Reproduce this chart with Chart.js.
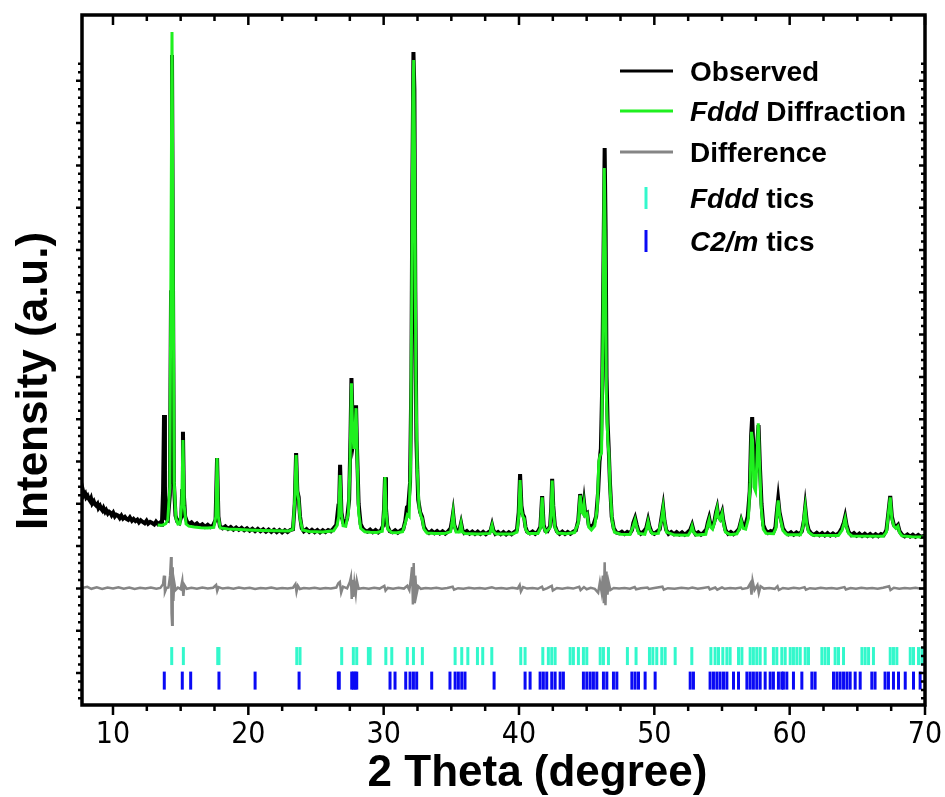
<!DOCTYPE html>
<html>
<head>
<meta charset="utf-8">
<title>XRD refinement</title>
<script src="https://cdn.jsdelivr.net/npm/chart.js@4/dist/chart.umd.min.js"></script>
<style>
  html, body { margin: 0; padding: 0; background: #fff; }
  #wrap { width: 945px; height: 797px; }
</style>
</head>
<body>
<div id="wrap"><canvas id="xrd" width="945" height="797"></canvas></div>
<script>
// - Pattern data: [2theta, counts]

const observed = [
  [7.71,4255],[7.78,4310],[7.86,4200],[7.95,4240],[8.02,4150],[8.12,4190],[8.2,4120],[8.3,4070],[8.38,4130],[8.47,4010],
  [8.58,4060],[8.66,3990],[8.75,3960],[8.85,4000],[8.93,3900],[9.04,3950],[9.13,3880],[9.22,3840],[9.3,3900],[9.42,3810],
  [9.5,3850],[9.62,3770],[9.72,3810],[9.8,3790],[9.9,3730],[10.02,3790],[10.14,3700],[10.25,3740],[10.38,3720],[10.5,3660],
  [10.62,3720],[10.74,3650],[10.88,3690],[11.0,3640],[11.12,3620],[11.25,3680],[11.4,3600],[11.52,3640],[11.66,3590],[11.8,3625],
  [11.92,3560],[12.05,3610],[12.2,3570],[12.34,3540],[12.48,3600],[12.6,3530],[12.75,3570],[12.9,3545],[13.05,3510],[13.18,3575],
  [13.32,3520],[13.45,3550],[13.55,3505],
  [13.62,3560],[13.7,4300],[13.77,6100],[13.84,4400],[13.92,3650],[14.05,3620],
  [14.2,4200],[14.29,9000],[14.36,14610],[14.43,9500],[14.5,4500],[14.62,3720],[14.75,3580],[14.9,3545],[15.05,3700],[15.11,4300],
  [15.17,5700],[15.24,4200],[15.33,3700],[15.45,3590],[15.6,3520],[15.8,3560],[16.0,3490],[16.2,3535],[16.4,3470],[16.6,3515],
  [16.8,3455],[17.0,3505],[17.2,3450],[17.4,3490],[17.58,3620],[17.69,5080],[17.79,3700],[17.9,3470],[18.1,3420],[18.3,3465],
  [18.5,3405],[18.7,3450],[18.9,3390],[19.1,3440],[19.3,3385],[19.5,3430],[19.7,3375],[19.9,3420],[20.1,3365],[20.3,3410],
  [20.5,3355],[20.7,3405],[20.9,3350],[21.1,3395],[21.3,3340],[21.5,3390],[21.7,3335],[21.9,3385],[22.1,3330],[22.3,3380],
  [22.5,3325],[22.7,3375],[22.9,3330],[23.1,3380],[23.3,3400],[23.43,4000],[23.53,5200],[23.62,4300],[23.72,4160],[23.82,3700],
  [23.95,3420],[24.1,3350],[24.3,3400],[24.5,3335],[24.7,3385],[24.9,3330],[25.1,3380],[25.3,3325],[25.5,3375],[25.7,3330],
  [25.9,3380],[26.1,3350],[26.3,3420],[26.5,3500],[26.62,3850],[26.7,3800],[26.78,4920],[26.88,3800],[27.0,3560],[27.15,3520],
  [27.3,3650],[27.45,4100],[27.55,5600],[27.62,6970],[27.7,6000],[27.78,5500],[27.88,5700],[27.96,6330],[28.04,5200],[28.15,4000],
  [28.3,3520],[28.45,3420],[28.6,3370],[28.8,3340],[29.0,3390],[29.2,3330],[29.4,3380],[29.6,3325],[29.8,3375],[29.95,3480],
  [30.03,3900],[30.1,4630],[30.17,3900],[30.27,3480],[30.45,3350],[30.65,3325],[30.85,3375],[31.05,3320],[31.25,3370],[31.45,3400],
  [31.6,3600],[31.72,3920],[31.82,3950],[31.95,4500],[32.05,7000],[32.12,11500],[32.2,14680],[32.27,13800],[32.34,9000],[32.42,5500],
  [32.55,4100],[32.7,3800],[32.84,3690],[32.98,3450],[33.15,3360],[33.35,3310],[33.55,3360],[33.75,3305],[33.95,3355],[34.15,3300],
  [34.35,3350],[34.55,3295],[34.75,3345],[34.95,3420],[35.05,3600],[35.13,3780],[35.22,3500],[35.35,3380],[35.5,3360],[35.62,3400],
  [35.72,3545],[35.82,3380],[35.95,3310],[36.15,3355],[36.35,3295],[36.55,3345],[36.75,3290],[36.95,3340],[37.15,3285],[37.35,3335],
  [37.55,3280],[37.75,3330],[37.9,3360],[38.01,3500],[38.1,3380],[38.25,3290],[38.45,3335],[38.65,3280],[38.85,3330],[39.05,3275],
  [39.25,3325],[39.45,3280],[39.65,3330],[39.85,3380],[39.98,3800],[40.08,4700],[40.18,3950],[40.28,3750],[40.38,3690],[40.48,3450],
  [40.6,3340],[40.8,3300],[41.0,3345],[41.2,3290],[41.4,3340],[41.58,3450],[41.71,4180],[41.82,3500],[41.95,3360],[42.1,3350],
  [42.3,3480],[42.38,3900],[42.45,4590],[42.53,3950],[42.65,3480],[42.8,3350],[43.0,3290],[43.2,3340],[43.4,3285],[43.6,3335],
  [43.8,3290],[44.0,3340],[44.2,3370],[44.38,3600],[44.52,4230],[44.64,3850],[44.74,3800],[44.81,4020],[44.9,3750],[45.03,3780],
  [45.15,3500],[45.3,3450],[45.5,3500],[45.7,3700],[45.85,4300],[45.95,5000],[46.05,5300],[46.15,6800],[46.25,10000],[46.33,12410],
  [46.4,10500],[46.47,7000],[46.55,5900],[46.63,5300],[46.72,4500],[46.85,3700],[47.0,3420],[47.2,3320],[47.4,3300],[47.6,3340],
  [47.8,3285],[48.0,3335],[48.2,3300],[48.35,3380],[48.45,3550],[48.58,3665],[48.7,3500],[48.82,3360],[49.0,3290],[49.2,3340],
  [49.4,3420],[49.54,3615],[49.65,3450],[49.8,3330],[50.0,3290],[50.2,3340],[50.4,3400],[50.52,3650],[50.65,3920],[50.75,3600],
  [50.88,3380],[51.05,3290],[51.25,3335],[51.45,3280],[51.65,3330],[51.85,3275],[52.05,3325],[52.25,3270],[52.45,3320],[52.65,3380],
  [52.79,3500],[52.9,3360],[53.05,3280],[53.25,3325],[53.45,3270],[53.65,3320],[53.85,3400],[53.95,3550],[54.05,3665],[54.15,3500],
  [54.3,3450],[54.45,3600],[54.56,3800],[54.64,3900],[54.72,3700],[54.85,3650],[55.01,3805],[55.1,3600],[55.25,3380],[55.45,3290],
  [55.65,3335],[55.85,3280],[56.05,3330],[56.25,3400],[56.42,3615],[56.55,3480],[56.7,3450],[56.9,3700],[57.05,4300],[57.15,5600],
  [57.23,6050],[57.32,5300],[57.42,4700],[57.52,4800],[57.62,5500],[57.7,5860],[57.8,4900],[57.92,4000],[58.05,3500],[58.2,3380],
  [58.4,3310],[58.6,3355],[58.8,3330],[58.95,3450],[59.05,3800],[59.15,4110],[59.25,3800],[59.35,3650],[59.5,3420],[59.7,3320],
  [59.9,3280],[60.1,3325],[60.3,3270],[60.5,3320],[60.7,3280],[60.9,3350],[61.05,3600],[61.15,3920],[61.27,3550],[61.4,3380],
  [61.6,3300],[61.8,3265],[62.0,3315],[62.2,3260],[62.4,3310],[62.6,3255],[62.8,3305],[63.0,3252],[63.2,3300],[63.4,3255],
  [63.65,3310],[63.85,3420],[64.0,3550],[64.1,3690],[64.2,3500],[64.35,3340],[64.55,3260],[64.75,3305],[64.95,3245],[65.15,3295],
  [65.35,3240],[65.55,3290],[65.75,3240],[65.95,3285],[66.15,3235],[66.35,3280],[66.55,3235],[66.75,3285],[66.95,3260],[67.15,3380],
  [67.3,3800],[67.43,4185],[67.55,3700],[67.7,3500],[67.85,3450],[68.0,3500],[68.12,3350],[68.3,3270],[68.5,3230],[68.7,3275],
  [68.9,3225],[69.1,3270],[69.3,3220],[69.5,3265],[69.7,3220],[70.0,3245]
];

const calculated = [
  [13.3,3500],[13.5,3490],[13.7,3500],[13.9,3530],[14.05,3620],[14.2,4400],[14.28,9500],[14.36,15150],[14.44,10000],[14.52,4500],
  [14.65,3650],[14.8,3520],[14.95,3530],[15.08,4000],[15.17,5510],[15.26,3950],[15.4,3520],[15.6,3470],[16.0,3450],[16.5,3435],
  [17.0,3425],[17.45,3440],[17.6,3700],[17.69,5080],[17.78,3700],[17.92,3430],[18.5,3405],[19.0,3395],[20.0,3380],[21.0,3370],
  [22.0,3360],[23.0,3355],[23.3,3400],[23.43,4100],[23.53,5150],[23.62,4300],[23.72,4100],[23.82,3650],[24.0,3380],[24.5,3345],
  [25.5,3335],[26.3,3360],[26.55,3480],[26.68,3700],[26.78,4680],[26.88,3750],[27.0,3480],[27.2,3470],[27.4,3800],[27.52,5000],
  [27.62,6850],[27.7,5800],[27.8,5300],[27.88,5700],[27.96,6260],[28.05,5000],[28.15,3800],[28.3,3420],[28.6,3340],[29.0,3325],
  [29.5,3320],[29.9,3350],[30.02,3800],[30.1,4630],[30.18,3800],[30.3,3400],[30.6,3320],[31.0,3315],[31.4,3340],[31.6,3550],
  [31.75,3740],[31.88,3700],[31.98,4800],[32.08,9000],[32.16,13500],[32.22,14490],[32.3,11500],[32.38,7000],[32.48,4800],[32.62,3900],
  [32.76,3700],[32.84,3650],[32.98,3400],[33.2,3310],[33.8,3300],[34.5,3295],[34.95,3340],[35.05,3550],[35.13,3770],[35.22,3480],
  [35.35,3330],[35.6,3330],[35.72,3530],[35.82,3330],[36.0,3295],[37.0,3285],[37.85,3300],[37.95,3430],[38.01,3495],[38.1,3350],
  [38.3,3285],[39.5,3285],[39.85,3330],[39.98,3700],[40.08,4560],[40.18,3850],[40.28,3700],[40.38,3650],[40.5,3380],[40.7,3300],
  [41.4,3300],[41.58,3420],[41.71,4150],[41.82,3450],[42.0,3330],[42.3,3440],[42.38,3850],[42.45,4550],[42.53,3900],[42.65,3440],
  [42.85,3310],[43.5,3290],[44.1,3320],[44.38,3550],[44.52,4200],[44.64,3800],[44.74,3760],[44.81,3980],[44.9,3720],[45.03,3760],
  [45.15,3450],[45.35,3380],[45.6,3480],[45.78,3900],[45.9,5000],[46.0,5150],[46.1,5200],[46.2,8000],[46.3,11940],[46.38,10000],
  [46.46,6500],[46.56,5500],[46.64,5200],[46.74,4300],[46.88,3600],[47.05,3330],[47.5,3280],[48.2,3275],[48.45,3480],[48.58,3620],
  [48.7,3450],[48.85,3300],[49.3,3280],[49.42,3400],[49.54,3580],[49.66,3400],[49.85,3290],[50.3,3300],[50.52,3600],[50.65,3900],
  [50.76,3580],[50.9,3330],[51.5,3260],[52.5,3255],[52.68,3350],[52.79,3470],[52.9,3330],[53.1,3260],[53.8,3280],[53.95,3500],
  [54.05,3620],[54.15,3450],[54.3,3400],[54.45,3560],[54.56,3760],[54.64,3880],[54.72,3680],[54.85,3620],[55.01,3780],[55.1,3560],
  [55.25,3330],[55.6,3270],[56.1,3290],[56.28,3400],[56.42,3600],[56.55,3420],[56.75,3400],[56.95,3650],[57.08,4500],[57.18,5700],
  [57.26,5500],[57.36,4400],[57.48,4300],[57.58,5000],[57.68,5900],[57.78,4900],[57.9,3900],[58.05,3400],[58.25,3300],[58.8,3290],
  [58.98,3420],[59.07,3800],[59.15,4080],[59.25,3750],[59.35,3600],[59.5,3370],[59.8,3265],[60.8,3265],[60.98,3450],[61.07,3700],
  [61.15,3900],[61.26,3520],[61.4,3330],[61.7,3255],[63.6,3250],[63.88,3380],[64.0,3520],[64.1,3650],[64.2,3460],[64.35,3300],
  [64.6,3240],[66.9,3230],[67.15,3330],[67.3,3780],[67.43,4150],[67.55,3650],[67.7,3470],[67.85,3420],[68.0,3470],[68.12,3320],
  [68.3,3240],[69.0,3220],[70.0,3215]
];

// observed - calculated, shifted down to sit under the pattern
const difference = [
  [7.71,2010],[8.1,2035],[8.4,1990],[8.8,2025],[9.2,1985],[9.6,2020],[10.0,1995],[10.4,2025],[10.8,1990],[11.2,2020],
  [11.6,1985],[12.0,2015],[12.4,1995],[12.8,2020],[13.2,1990],[13.5,2010],[13.7,2100],[13.77,2300],[13.84,1920],[13.95,2010],
  [14.1,2020],[14.22,2300],[14.29,2740],[14.33,1400],[14.37,1140],[14.41,2500],[14.46,1700],[14.52,2150],[14.62,1960],[14.8,2020],
  [15.0,1980],[15.12,2180],[15.2,1820],[15.28,2080],[15.45,1990],[15.8,2015],[16.2,1990],[16.6,2020],[17.0,1995],[17.4,2015],
  [17.62,2080],[17.7,1940],[17.8,2030],[18.1,1995],[18.5,2015],[18.9,1990],[19.3,2020],[19.7,1995],[20.1,2015],[20.5,1985],
  [20.9,2010],[21.3,1995],[21.7,2020],[22.1,1990],[22.5,2010],[22.9,1995],[23.3,2015],[23.48,2100],[23.56,1920],[23.66,2060],
  [23.8,1985],[24.1,2010],[24.5,1995],[24.9,2015],[25.3,1990],[25.7,2010],[26.1,1995],[26.5,2020],[26.65,2120],[26.76,2150],
  [26.86,1900],[27.0,2040],[27.3,2000],[27.5,2150],[27.58,2260],[27.64,1750],[27.7,2200],[27.76,1800],[27.84,2130],[27.94,1880],
  [28.02,2180],[28.15,1990],[28.5,2010],[28.9,1990],[29.3,2015],[29.7,1995],[30.05,2060],[30.14,1950],[30.3,2010],[30.7,1990],
  [31.1,2015],[31.5,1995],[31.75,2060],[31.9,1960],[32.02,2250],[32.1,2500],[32.16,1620],[32.22,2600],[32.28,1650],[32.34,2300],
  [32.42,1850],[32.55,2050],[32.75,1990],[33.1,2010],[33.5,1995],[33.9,2015],[34.3,1990],[34.7,2010],[35.1,2040],[35.2,1970],
  [35.5,2005],[35.9,1990],[36.3,2015],[36.7,1995],[37.1,2010],[37.5,1990],[38.0,2025],[38.3,1995],[38.7,2010],[39.1,1990],
  [39.5,2015],[39.9,1995],[40.05,2080],[40.14,1930],[40.3,2030],[40.6,1995],[41.0,2010],[41.4,1990],[41.7,2040],[41.8,1970],
  [42.1,2005],[42.42,2060],[42.5,1950],[42.8,2010],[43.2,1990],[43.6,2015],[44.0,1995],[44.45,2040],[44.55,1960],[44.8,2030],
  [45.0,1980],[45.3,2015],[45.6,1990],[45.85,1900],[45.98,2150],[46.1,1920],[46.2,2300],[46.27,1650],[46.33,2620],[46.39,1600],
  [46.46,2400],[46.54,1850],[46.62,2150],[46.75,1960],[47.0,2010],[47.4,1995],[47.8,2010],[48.2,1990],[48.55,2030],[48.65,1980],
  [49.0,2005],[49.5,2020],[49.6,1985],[50.0,2010],[50.6,2040],[50.7,1970],[51.0,2005],[51.5,1990],[52.0,2015],[52.5,1995],
  [52.8,2020],[53.2,1990],[53.6,2010],[54.0,2030],[54.1,1975],[54.5,2020],[54.65,1970],[55.0,2025],[55.2,1990],[55.6,2010],
  [56.0,1995],[56.4,2020],[56.5,1985],[56.9,2010],[57.1,2120],[57.18,1850],[57.26,2180],[57.4,1960],[57.62,2080],[57.72,1890],
  [57.85,2050],[58.1,1995],[58.5,2010],[58.9,1990],[59.1,2050],[59.2,1960],[59.5,2010],[59.9,1990],[60.3,2015],[60.7,1995],
  [61.1,2030],[61.2,1970],[61.5,2005],[61.9,1990],[62.3,2015],[62.7,1995],[63.1,2010],[63.5,1990],[64.05,2030],[64.15,1975],
  [64.5,2010],[64.9,1990],[65.3,2015],[65.7,1995],[66.1,2010],[66.5,1990],[66.9,2015],[67.35,2050],[67.45,1960],[67.7,2015],
  [68.1,1990],[68.5,2010],[68.9,1995],[69.3,2015],[69.7,1990],[70.0,2005]
];

// - Bragg reflection positions (2theta)

const fdddTics = [
  14.34, 15.20, 17.74, 17.83, 23.58, 23.82, 26.90, 27.76, 28.01, 28.87, 29.00, 30.16, 30.60, 31.75, 32.20, 32.86,
  35.28, 35.77, 36.22, 36.93, 37.32, 37.99, 40.13, 40.45, 41.76, 42.17, 42.42, 42.67, 43.78, 44.02, 44.39, 44.76,
  45.01, 46.00, 46.24, 46.61, 48.01, 48.65, 49.64, 49.89, 50.18, 50.55, 50.80, 51.54, 52.77, 54.18, 54.49, 54.74,
  55.06, 55.36, 55.60, 56.22, 56.47, 57.08, 57.32, 57.57, 57.82, 58.19, 58.80, 59.05, 59.42, 59.67, 60.04, 60.28,
  60.53, 60.78, 61.15, 61.39, 62.38, 62.62, 62.87, 63.36, 63.61, 63.98, 65.34, 65.58, 65.83, 66.19, 67.43, 67.67,
  67.92, 68.91, 69.15, 69.52, 69.77
];

const c2mTics = [
  13.79, 15.12, 15.74, 17.83, 20.50, 23.75, 26.65, 26.72, 27.64, 27.76, 27.89, 28.01, 30.47, 30.84, 31.63, 31.95,
  32.20, 32.44, 33.55, 34.90, 35.28, 35.52, 35.77, 36.01, 38.16, 40.45, 40.82, 41.56, 41.80, 42.05, 42.42, 42.67,
  43.04, 43.28, 44.76, 45.01, 45.26, 45.50, 45.75, 46.24, 46.49, 46.98, 47.23, 48.34, 48.58, 48.83, 49.32, 50.06,
  52.65, 52.89, 54.12, 54.37, 54.62, 54.86, 55.11, 55.36, 55.85, 56.22, 56.84, 57.08, 57.32, 57.57, 57.82, 58.19,
  58.56, 58.80, 59.17, 59.42, 59.54, 59.79, 60.28, 60.90, 61.64, 61.88, 63.24, 63.49, 63.73, 63.98, 64.23, 64.47,
  64.84, 65.21, 66.07, 66.31, 67.05, 67.30, 67.67, 68.04, 68.54, 69.15, 69.64
];

const xTicks = [10, 20, 30, 40, 50, 60, 70];

// rows for the tic marks, below the difference curve
const FDDD_ROW = 400;
const C2M_ROW = -180;

const FONT = "'Liberation Sans', Arial, Helvetica, sans-serif";
const NARROW = "'Liberation Sans Narrow', 'Arial Narrow', 'DejaVu Sans Condensed', sans-serif";

const toPoints = pairs => pairs.map(p => ({ x: p[0], y: p[1] }));
const ticPoints = (list, row) => list.map(v => ({ x: v, y: row }));

// - Box frame with ticks on all four sides

const frameTicks = {
  id: 'frameTicks',
  afterDatasetsDraw(chart) {
    const { ctx, chartArea: a, scales: { x, y } } = chart;
    ctx.save();
    ctx.strokeStyle = '#000';
    ctx.lineWidth = 2.5;
    ctx.beginPath();
    for (let v = 10; v <= 70; v += 2.5) {
      const px = x.getPixelForValue(v);
      const len = v % 10 === 0 ? 10 : 6;
      ctx.moveTo(px, a.bottom); ctx.lineTo(px, a.bottom + len);
      ctx.moveTo(px, a.top); ctx.lineTo(px, a.top + len);
    }
    for (let v = -600; v <= 14400; v += 200) {
      const py = y.getPixelForValue(v);
      const len = v % 1000 === 0 ? 6 : 4;
      ctx.moveTo(a.left, py); ctx.lineTo(a.left - len, py);
      ctx.moveTo(a.right, py); ctx.lineTo(a.right - len, py);
    }
    ctx.stroke();
    ctx.lineWidth = 3.5;
    ctx.strokeRect(a.left, a.top, a.right - a.left, a.bottom - a.top);
    ctx.restore();
  }
};

// draws "*italic* plain" labels
function richText(ctx, text, x, y, size) {
  text.split('*').forEach((part, i) => {
    if (!part) return;
    ctx.font = (i % 2 ? 'italic ' : '') + 'bold ' + size + 'px ' + FONT;
    ctx.fillText(part, x, y);
    x += ctx.measureText(part).width;
  });
}

// - Legend box and axis titles

const legendTitles = {
  id: 'legendTitles',
  afterDraw(chart) {
    const { ctx, chartArea: a } = chart;
    const rows = [71, 111, 152, 198, 241];
    ctx.save();
    ctx.fillStyle = '#000';
    ctx.textAlign = 'left';
    ctx.textBaseline = 'alphabetic';
    chart.data.datasets.forEach((ds, i) => {
      const y = rows[i];
      ctx.strokeStyle = ds.borderColor;
      ctx.lineWidth = 3;
      ctx.beginPath();
      if (ds.showLine === false) {
        ctx.moveTo(646, y - 11); ctx.lineTo(646, y + 11);
      } else {
        ctx.moveTo(620, y); ctx.lineTo(673, y);
      }
      ctx.stroke();
      richText(ctx, ds.label, 690, y + 10, 28);
    });

    ctx.font = 'bold 44px ' + FONT;
    ctx.textAlign = 'center';
    ctx.fillText('2 Theta (degree)', (a.left + a.right) / 2 + 34, 786);

    ctx.translate(47, 381);
    ctx.rotate(-Math.PI / 2);
    ctx.fillText('Intensity (a.u.)', 0, 0);
    ctx.restore();
  }
};

const config = {
  type: 'line',
  data: {
    datasets: [{
      label: 'Observed',
      data: toPoints(observed),
      borderColor: '#000000',
      borderWidth: 4,
      pointRadius: 0,
      order: 1
    },
    {
      label: '*Fddd* Diffraction',
      data: toPoints(calculated),
      borderColor: '#1ff01f',
      borderWidth: 3,
      pointRadius: 0,
      order: 0
    },
    {
      label: 'Difference',
      data: toPoints(difference),
      borderColor: '#858585',
      borderWidth: 2.5,
      pointRadius: 0,
      order: 2
    },
    {
      label: '*Fddd* tics',
      data: ticPoints(fdddTics, FDDD_ROW),
      showLine: false,
      borderColor: '#33f8cc',
      pointStyle: 'line',
      pointRotation: 90,
      pointRadius: 9,
      pointBorderWidth: 3,
      pointBorderColor: '#33f8cc',
      order: 3
    },
    {
      label: '*C2/m* tics',
      data: ticPoints(c2mTics, C2M_ROW),
      showLine: false,
      borderColor: '#0a0af5',
      pointStyle: 'line',
      pointRotation: 90,
      pointRadius: 9,
      pointBorderWidth: 3,
      pointBorderColor: '#0a0af5',
      order: 4
    }]
  },
  options: {
    responsive: false,
    animation: false,
    events: [],
    layout: { padding: { left: 82, top: 15, right: 20, bottom: 0 } },
    scales: {
      x: {
        type: 'linear',
        min: 7.71,
        max: 70,
        afterBuildTicks: scale => { scale.ticks = xTicks.map(v => ({ value: v })); },
        afterFit: scale => {
          scale.height = 92;
          scale.paddingLeft = 0;
          scale.paddingRight = 0;
        },
        grid: { display: false, drawTicks: false },
        border: { display: false },
        ticks: {
          padding: 12,
          color: '#000',
          maxRotation: 0,
          autoSkip: false,
          font: { family: NARROW, size: 30 }
        }
      },
      y: {
        display: false,
        min: -757,
        max: 15555
      }
    },
    plugins: {
      legend: { display: false },
      tooltip: { enabled: false }
    }
  },
  plugins: [frameTicks, legendTitles]
};

const xrdChart = new Chart(document.getElementById('xrd'), config);
</script>
</body>
</html>
